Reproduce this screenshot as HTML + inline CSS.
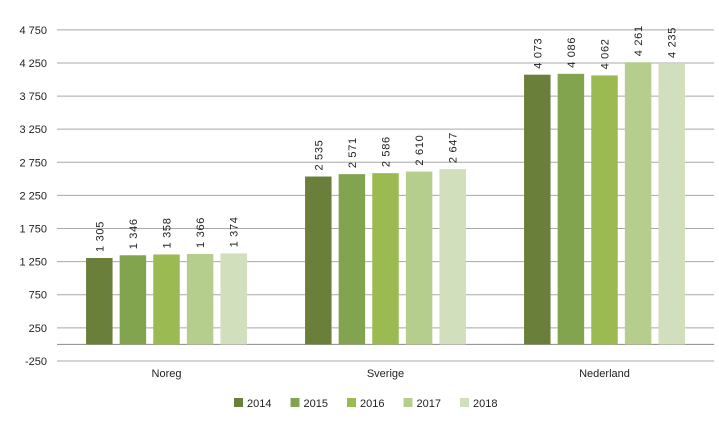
<!DOCTYPE html>
<html><head><meta charset="utf-8"><style>
body{margin:0;background:#fff;}
svg{display:block;font-family:"Liberation Sans",sans-serif;}
</style></head><body>
<svg id="c" width="719" height="425"></svg>
<script>
const categories=["Noreg","Sverige","Nederland"];
const years=["2014","2015","2016","2017","2018"];
const s2014=[1305,2535,4073];
const s2015=[1346,2571,4086];
const s2016=[1358,2586,4062];
const s2017=[1366,2610,4261];
const s2018=[1374,2647,4235];
const ticks=[-250,250,750,1250,1750,2250,2750,3250,3750,4250,4750];
const series=[s2014,s2015,s2016,s2017,s2018];
const colors=["#6a7f3a","#82a44e","#9cba52","#b5ce8e","#d1dfbd"];
const NS="http://www.w3.org/2000/svg";
const svg=document.getElementById('c');
const x0=57,x1=714,groupW=(x1-x0)/categories.length;
function y(v){return 344.4-v*0.06622;}
function fmt(v){const s=String(Math.abs(v));const r=s.length>3?s.slice(0,-3)+" "+s.slice(-3):s;return (v<0?"-":"")+r;}
function el(t,a){const e=document.createElementNS(NS,t);for(const k in a)e.setAttribute(k,a[k]);svg.appendChild(e);return e;}
ticks.forEach(t=>{
 const l=el('line',{x1:x0,x2:x1,y1:y(t),y2:y(t),stroke:'#a8a8a8','stroke-width':1});
 
 
 const tx=el('text',{x:47,y:y(t)+4,'text-anchor':'end','font-size':11,fill:'#222'});
 tx.textContent=fmt(t);
 
 
});
const ax=el('line',{x1:x0,x2:x1,y1:y(0),y2:y(0),stroke:'#888','stroke-width':1});


const bw=26.5,step=33.6;
categories.forEach((c,i)=>{
 const cx=x0+groupW*(i+0.5);
 series.forEach((s,j)=>{
  const bx=cx-2*step-bw/2+j*step;
  const v=s[i];
  const r=el('rect',{x:bx,y:y(v),width:bw,height:y(0)-y(v),fill:colors[j]});
  
  
  const tx=bx+bw/2+4,ty=y(v)-6;
  const t=el('text',{x:tx,y:ty,transform:`rotate(-90 ${tx} ${ty})`,'font-size':11,'letter-spacing':0.7,fill:'#222'});
  t.textContent=fmt(v);
  
  
 });
 const t=el('text',{x:cx,y:377,'text-anchor':'middle','font-size':11,fill:'#222'});
 t.textContent=c;
 
 
});
years.forEach((yr,j)=>{
 const lx=234+j*56.5;
 const r=el('rect',{x:lx,y:398,width:9,height:9,fill:colors[j]});
 
 
 const t=el('text',{x:lx+13,y:407,'font-size':11,fill:'#222'});
 t.textContent=yr;
 
 
});
</script>
</body></html>
